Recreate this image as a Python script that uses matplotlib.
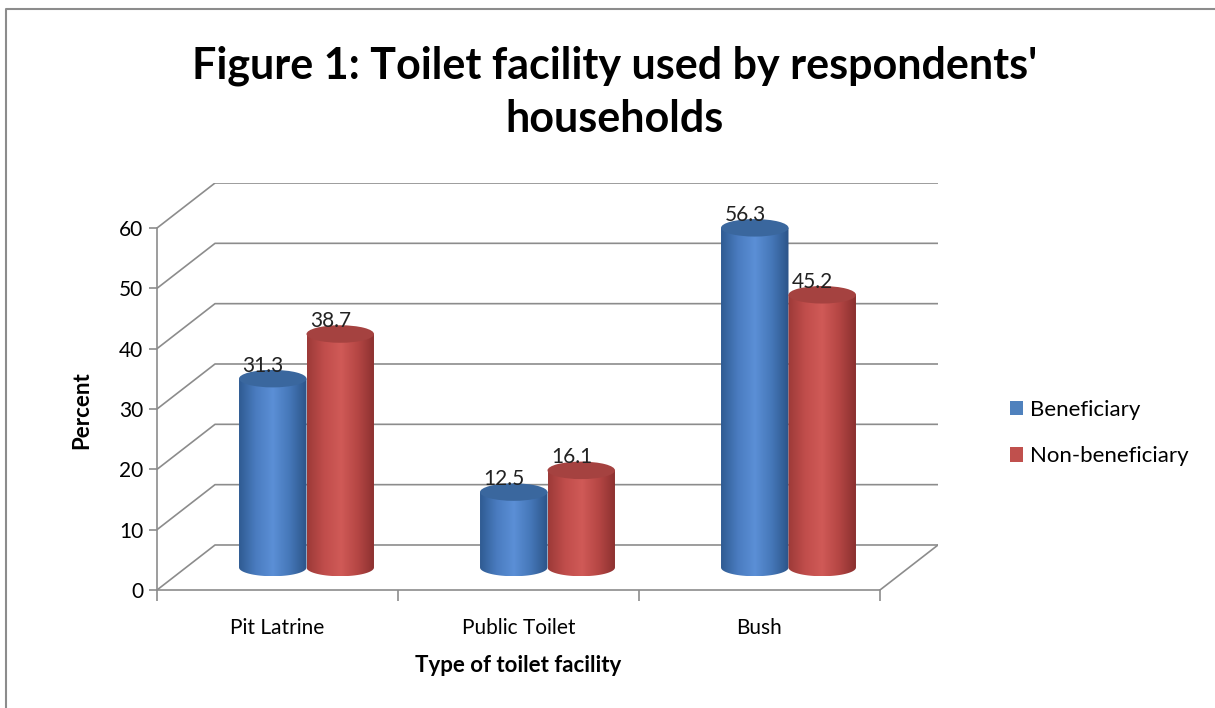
import matplotlib
matplotlib.use("Agg")
from matplotlib import pyplot as plt
from matplotlib.colors import LinearSegmentedColormap
from matplotlib.patches import Ellipse, Patch, PathPatch
from matplotlib.path import Path
from matplotlib.lines import Line2D
import numpy as np

categories = ["Pit Latrine", "Public Toilet", "Bush"]
series_names = ["Beneficiary", "Non-beneficiary"]
beneficiary = [31.3, 12.5, 56.3]
non_beneficiary = [38.7, 16.1, 45.2]
y_ticks = [0, 10, 20, 30, 40, 50, 60]

plt.rcParams["font.family"] = ["Lato", "DejaVu Sans"]

# depth of the fake 3D box, in data units
dxd = 0.2407
dyd = 7.46
bar_w = 0.28
eh = 1.45  # half height of the cylinder ellipses

grid_col = "#8c8c8c"
shades = {
    "Beneficiary": (["#2f5b92", "#4a7cc0", "#5b8fd6", "#4577b8", "#2c5488"], "#3a679e", "#4F81BD"),
    "Non-beneficiary": (["#9c3a38", "#c04d4b", "#d05a57", "#b54644", "#8a302f"], "#a54240", "#C0504D"),
}

fig = plt.figure(figsize=(12.15, 7.08), dpi=100)
ax = fig.add_axes([157 / 1215, (708 - 590) / 708, 781 / 1215, 407 / 708])

# back wall / side wall grid
for v in y_ticks:
    ax.plot([-0.5, -0.5 + dxd, 2.5 + dxd], [v, v + dyd, v + dyd],
            color=grid_col, lw=1.2, zorder=1)
ax.plot([2.5, 2.5 + dxd], [0, dyd], color=grid_col, lw=1.2, zorder=1)

# cylinders
base = dyd / 2
for s, (name, vals) in enumerate(zip(series_names, [beneficiary, non_beneficiary])):
    cols, top_col, _ = shades[name]
    cmap = LinearSegmentedColormap.from_list(name, cols)
    for i, v in enumerate(vals):
        x0 = i + dxd / 2 - bar_w + s * bar_w
        xc = x0 + bar_w / 2
        top = base + v
        t = np.linspace(np.pi, 2 * np.pi, 40)
        verts = [(xc + bar_w / 2 * np.cos(a), base + eh * np.sin(a)) for a in t]
        verts += [(x0 + bar_w, top), (x0, top), verts[0]]
        codes = [Path.MOVETO] + [Path.LINETO] * (len(verts) - 2) + [Path.CLOSEPOLY]
        clip = PathPatch(Path(verts, codes), facecolor="none", edgecolor="none")
        ax.add_patch(clip)
        grad = np.linspace(0, 1, 256).reshape(1, -1)
        im = ax.imshow(grad, cmap=cmap, aspect="auto", zorder=3,
                       extent=[x0, x0 + bar_w, base - eh, top], interpolation="bilinear")
        im.set_clip_path(clip)
        ax.add_patch(Ellipse((xc, top), bar_w, 2 * eh, facecolor=top_col,
                             edgecolor="none", zorder=4))
        # labels sit a little left of the bar centre, like the original
        ax.text(xc - 0.04, top + eh * 0.35, f"{v}", ha="center", va="bottom",
                fontsize=15, color="#222222", zorder=5)

ax.set_xlim(-0.5, 2.5 + dxd)
ax.set_ylim(0, 60 + dyd)
ax.set_facecolor("none")
for sp in ["top", "right"]:
    ax.spines[sp].set_visible(False)
ax.spines["left"].set_bounds(0, 60)
ax.spines["bottom"].set_bounds(-0.5, 2.5)
for sp in ["left", "bottom"]:
    ax.spines[sp].set_color(grid_col)
    ax.spines[sp].set_linewidth(1.2)

ax.set_yticks(y_ticks)
ax.set_yticklabels([str(t) for t in y_ticks], fontsize=15)
ax.set_xticks(range(len(categories)))
ax.set_xticklabels(categories, fontsize=15)
ax.set_xticks([-0.5, 0.5, 1.5, 2.5], minor=True)
ax.tick_params(axis="x", which="major", length=0, pad=20)
ax.tick_params(axis="x", which="minor", length=8, color=grid_col, width=1.2)
ax.tick_params(axis="y", length=6, color=grid_col, width=1.2, pad=4)

ax.set_ylabel("Percent", fontsize=16, fontweight="bold")
ax.yaxis.set_label_coords(-(157 - 82) / 781, (590 - 410) / 407)
ax.set_xlabel("Type of toilet facility", fontsize=16, fontweight="bold")
ax.xaxis.set_label_coords(((518 - 157) / 781), -(665 - 590) / 407)
ax.xaxis.label.set_va("center")
ax.yaxis.label.set_va("center")

fig.text(615 / 1215, 1 - 92 / 708, "Figure 1: Toilet facility used by respondents'\nhouseholds",
         ha="center", va="center", fontsize=31, fontweight="bold", linespacing=1.4)

handles = [Patch(facecolor=shades[n][2], edgecolor="none") for n in series_names]
fig.legend(handles, series_names, loc="center left", bbox_to_anchor=(990 / 1215, 1 - 433 / 708),
           frameon=False, fontsize=16, handlelength=0.6, handleheight=0.6,
           handletextpad=0.3, labelspacing=1.2)

# outer chart border
fig.add_artist(Line2D([6 / 1215, 6 / 1215, 1.0], [0, 1 - 9 / 708, 1 - 9 / 708],
                      transform=fig.transFigure, color="#8c8c8c", lw=1.5))

fig.savefig("out.png", dpi=100)
